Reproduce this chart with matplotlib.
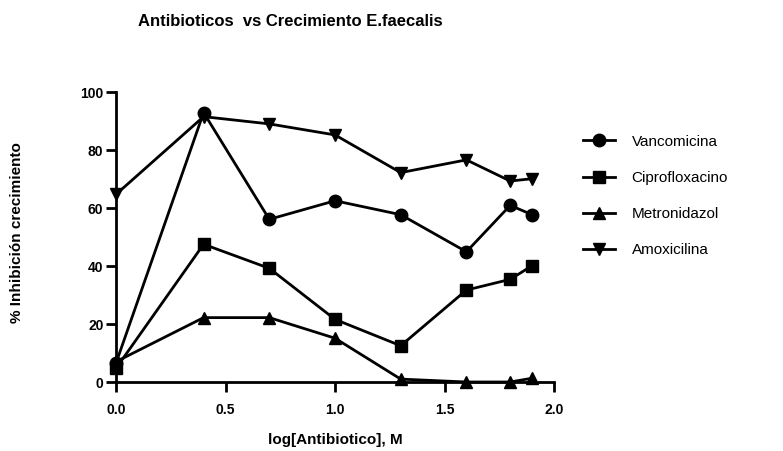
import matplotlib
matplotlib.use("Agg")
import matplotlib.pyplot as plt

# ─── DATA ────────────────────────────────────────────────────
log_conc = [0.0, 0.4, 0.7, 1.0, 1.3, 1.6, 1.8, 1.9]

vancomicina    = [6.5, 92.9, 56.1, 62.5, 57.7, 44.9, 60.9, 57.7]
ciprofloxacino = [4.7, 47.5, 39.2, 21.6, 12.5, 31.7, 35.4, 40.1]
metronidazol   = [7.0, 22.2, 22.2, 15.1, 1.0, 0.0, 0.0, 1.3]
amoxicilina    = [64.7, 91.5, 89.0, 85.2, 72.2, 76.6, 69.3, 70.1]

series = [
    ("Vancomicina", vancomicina, "o"),
    ("Ciprofloxacino", ciprofloxacino, "s"),
    ("Metronidazol", metronidazol, "^"),
    ("Amoxicilina", amoxicilina, "v"),
]

x_ticks = [0.0, 0.5, 1.0, 1.5, 2.0]
y_ticks = [0, 20, 40, 60, 80, 100]

# ─── FIGURE ──────────────────────────────────────────────────
plt.rcParams['font.family'] = ['Liberation Sans', 'DejaVu Sans']

fig = plt.figure(figsize=(7.83, 4.51), dpi=100)
ax = fig.add_axes([116 / 783, 69 / 451, 438 / 783, 290 / 451])

for name, vals, mk in series:
    ax.plot(log_conc, vals, color='black', linewidth=2, marker=mk,
            markersize=9, label=name, clip_on=False, zorder=3)

ax.set_xlim(0, 2.0)
ax.set_ylim(0, 100)
ax.set_xticks(x_ticks)
ax.set_xticklabels([f"{t:.1f}" for t in x_ticks])
ax.set_yticks(y_ticks)

for side in ['top', 'right']:
    ax.spines[side].set_visible(False)
for side in ['left', 'bottom']:
    ax.spines[side].set_linewidth(2)

ax.tick_params(direction='out', length=7, width=2, labelsize=10)
ax.tick_params(axis='x', pad=8)
ax.tick_params(axis='y', pad=2)
for lbl in ax.get_xticklabels() + ax.get_yticklabels():
    lbl.set_fontweight('bold')

ax.set_xlabel("log[Antibiotico], M", fontsize=11, fontweight='bold')
ax.set_ylabel("% Inhibición crecimiento", fontsize=11, fontweight='bold')
ax.xaxis.set_label_coords(0.5, -0.176)
ax.yaxis.set_label_coords(-0.21, 0.517)

fig.text(290 / 783, 1 - 21 / 451, "Antibioticos  vs Crecimiento E.faecalis",
         ha='center', va='center', fontsize=12, fontweight='bold')

ax.legend(loc='upper left', bbox_to_anchor=(1.034, 0.90), frameon=False,
          fontsize=11, handlelength=2.1, labelspacing=1.45, handletextpad=1.1)

fig.savefig("out.png", dpi=100)
